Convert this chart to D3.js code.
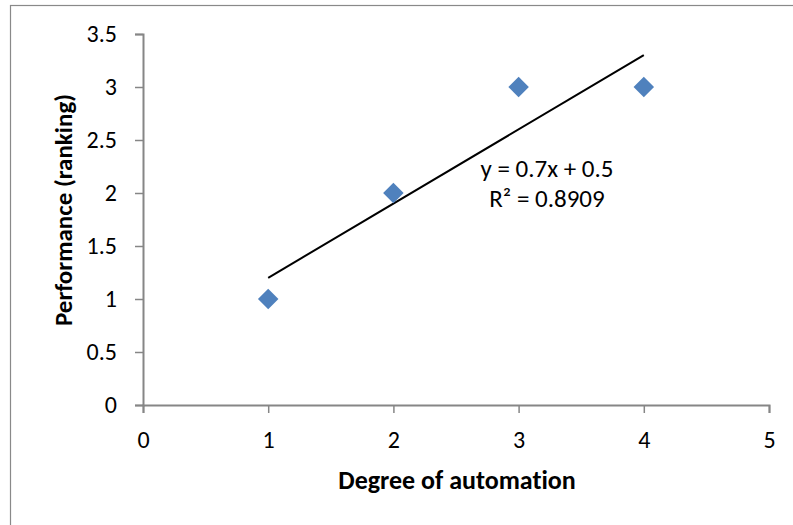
<!DOCTYPE html>
<html>
<head>
<meta charset="utf-8">
<script src="https://cdn.jsdelivr.net/npm/d3@7/dist/d3.min.js"></script>
<style>
  html, body { margin: 0; padding: 0; background: #fff; }
  svg { display: block; font-family: Carlito, Lato, "Liberation Sans", sans-serif;
        font-variant-ligatures: none; }
</style>
</head>
<body>
<svg id="chart" width="793" height="525"></svg>
<script>
// Observations: degree of automation vs performance ranking
const automation = [1, 2, 3, 4];
const performance = [1, 2, 3, 3];
// Linear trendline fitted to the points
const slope = 0.7;
const intercept = 0.5;
const rSquared = 0.8909;
const xTicks = [0, 1, 2, 3, 4, 5];
const yTicks = [0, 0.5, 1, 1.5, 2, 2.5, 3, 3.5];

const FONT = "Carlito, Lato, 'Liberation Sans', sans-serif";
const svg = d3.select("#chart");
const W = 793, H = 525;

// Chart frame
svg.append("rect")
  .attr("x", 10.5).attr("y", 5.5)
  .attr("width", W).attr("height", H)
  .attr("fill", "#fff").attr("stroke", "#898989").attr("stroke-width", 1.2);

const x = d3.scaleLinear().domain([0, 5]).range([143, 769]);
const y = d3.scaleLinear().domain([0, 3.5]).range([405, 34]);

const axisColor = "#868686";

// Y axis
const yAxis = svg.append("g")
  .attr("transform", `translate(${x(0)},0)`)
  .call(d3.axisLeft(y).tickValues(yTicks).tickSize(8).tickPadding(18)
    .tickFormat(d => String(d)));
// X axis
const xAxis = svg.append("g")
  .attr("transform", `translate(0,${y(0)})`)
  .call(d3.axisBottom(x).tickValues(xTicks).tickSize(8)
    .tickFormat(d => String(d)));

[yAxis, xAxis].forEach(g => {
  g.attr("font-family", FONT).attr("font-size", 24);
  g.select(".domain").attr("stroke", axisColor).attr("stroke-width", 2);
  g.selectAll(".tick line").attr("stroke", axisColor).attr("stroke-width", 1.5);
  g.selectAll(".tick text").attr("fill", "#000");
});
yAxis.selectAll(".tick text").attr("dy", "0.33em");
xAxis.selectAll(".tick text").attr("y", 43).attr("dy", 0);

// Trendline across the observed range
const x0 = d3.min(automation), x1 = d3.max(automation);
svg.append("line")
  .attr("x1", x(x0)).attr("y1", y(slope * x0 + intercept))
  .attr("x2", x(x1)).attr("y2", y(slope * x1 + intercept))
  .attr("stroke", "#000").attr("stroke-width", 2);

// Diamond markers
const diamond = d3.symbol().type(d3.symbolSquare).size(210);
svg.append("g").selectAll("path")
  .data(automation.map((a, i) => [a, performance[i]]))
  .join("path")
  .attr("d", diamond)
  .attr("transform", d => `translate(${x(d[0])},${y(d[1])}) rotate(45)`)
  .attr("fill", "#4F81BD");

// Trendline equation, two lines
const eqLines = [`y = ${slope}x + ${intercept}`, `R² = ${rSquared}`];
svg.append("g").selectAll("text")
  .data(eqLines)
  .join("text")
  .attr("x", 547)
  .attr("y", (d, i) => 177 + i * 30)
  .attr("text-anchor", "middle").attr("font-size", 25).attr("fill", "#000")
  .text(d => d);

// Axis titles
svg.append("text")
  .attr("x", 457).attr("y", 489)
  .attr("text-anchor", "middle").attr("font-size", 26).attr("font-weight", "bold")
  .text("Degree of automation");
svg.append("text")
  .attr("transform", "translate(72,210) rotate(-90)")
  .attr("text-anchor", "middle").attr("font-size", 25).attr("font-weight", "bold")
  .text("Performance (ranking)");
</script>
</body>
</html>
